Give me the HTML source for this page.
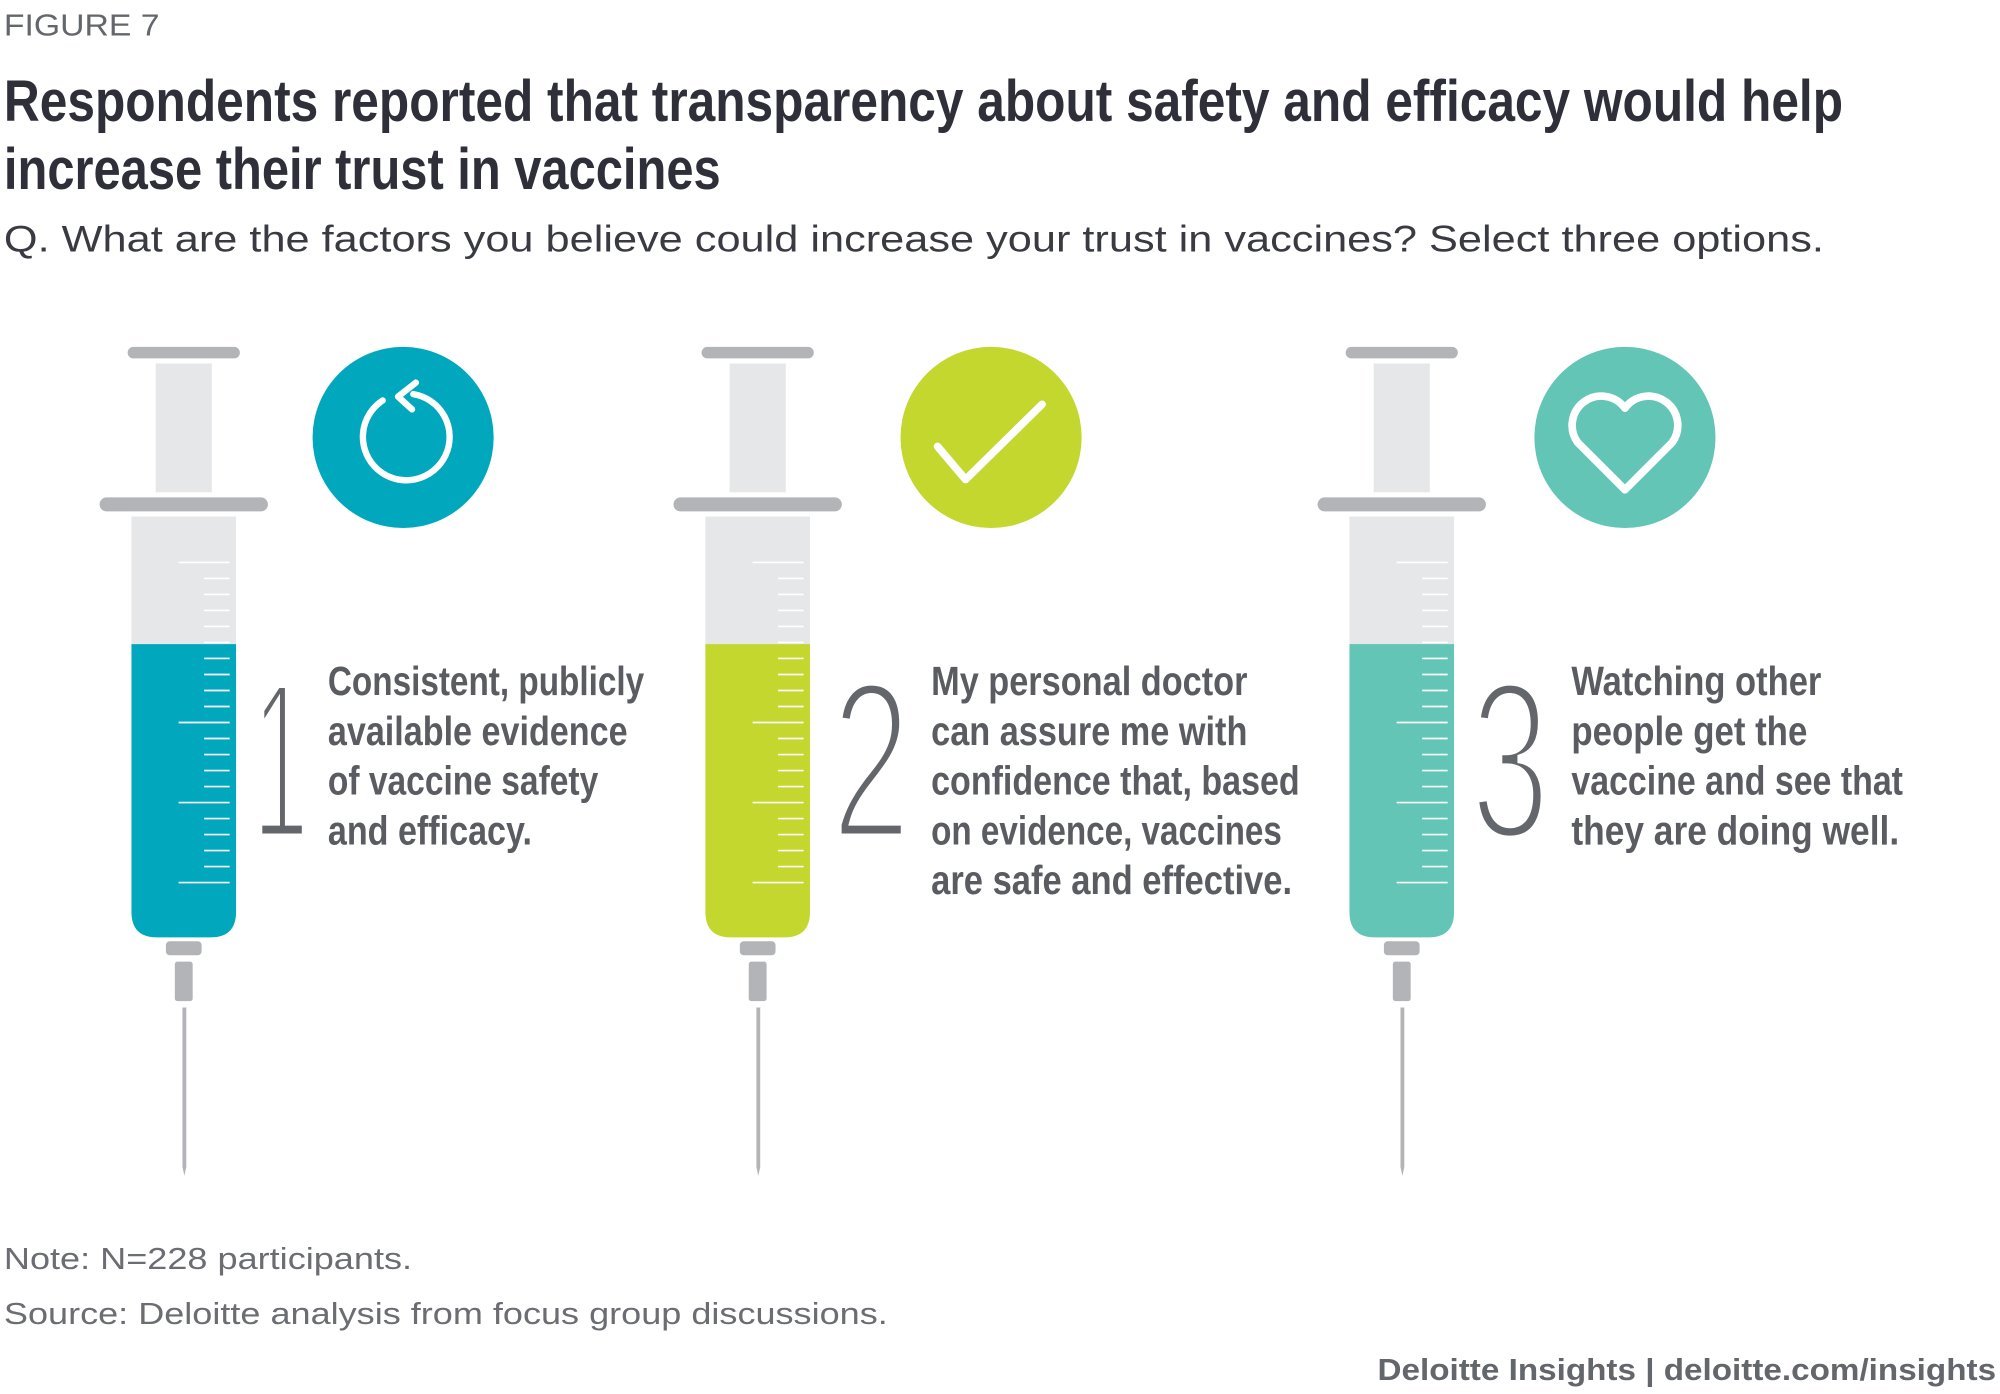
<!DOCTYPE html>
<html><head><meta charset="utf-8"><style>
html,body{margin:0;padding:0;background:#fff;width:2000px;height:1394px;overflow:hidden}
svg{display:block}
</style></head><body>
<svg id="fig" width="2000" height="1394" viewBox="0 0 1568 1093" xmlns="http://www.w3.org/2000/svg" font-family="'Liberation Sans', sans-serif">
<text x="3" y="28" font-size="24" fill="#63666a" textLength="122" lengthAdjust="spacingAndGlyphs">FIGURE 7</text>
<g font-family="'Liberation Sans Narrow','Liberation Sans',sans-serif" font-weight="bold" font-size="46" fill="#2e2f38">
<text x="3" y="95" textLength="1442" lengthAdjust="spacingAndGlyphs">Respondents reported that transparency about safety and efficacy would help</text>
<text x="3" y="148" textLength="562" lengthAdjust="spacingAndGlyphs">increase their trust in vaccines</text>
</g>
<text x="3" y="197" font-size="29" fill="#3a3b42" textLength="1427" lengthAdjust="spacingAndGlyphs">Q. What are the factors you believe could increase your trust in vaccines? Select three options.</text>
<g id="items"></g>
<text x="3" y="995" font-size="24" fill="#6b6d72" textLength="320" lengthAdjust="spacingAndGlyphs">Note: N=228 participants.</text>
<text x="3" y="1038" font-size="24" fill="#6b6d72" textLength="693" lengthAdjust="spacingAndGlyphs">Source: Deloitte analysis from focus group discussions.</text>
<text x="1080" y="1082" font-size="24" font-weight="bold" fill="#63666a" textLength="485" lengthAdjust="spacingAndGlyphs">Deloitte Insights | deloitte.com/insights</text>
</svg>
<script>
const ranks = ["1","2","3"];
const colors = ["#00a7bd","#c4d72e","#62c5b5"];
const offsets = [0,450,955];
const circleX = [316,777,1274];
const labels = [
 ["Consistent, publicly","available evidence","of vaccine safety","and efficacy."],
 ["My personal doctor","can assure me with","confidence that, based","on evidence, vaccines","are safe and effective."],
 ["Watching other","people get the","vaccine and see that","they are doing well."]
];
const widths = [[248,235,212,160],[248,248,289,275,283],[196,185,260,257]];
const NS="http://www.w3.org/2000/svg";
const root=document.getElementById('items');
function mk(tag,attrs,parent){const e=document.createElementNS(NS,tag);for(const k in attrs)e.setAttribute(k,attrs[k]);(parent||root).appendChild(e);return e;}
ranks.forEach((r,i)=>{
 const o=offsets[i], c=colors[i];
 const g=mk('g',{});
 
 
 mk('rect',{x:100+o,y:272,width:88,height:9,rx:4.5,fill:'#b3b4b7'},g);
 mk('rect',{x:122+o,y:285,width:44,height:101,fill:'#e6e7e8'},g);
 mk('rect',{x:78+o,y:390,width:132,height:11,rx:5.5,fill:'#b3b4b7'},g);
 mk('rect',{x:103+o,y:405,width:82,height:110,fill:'#e6e7e8'},g);
 mk('path',{d:`M${103+o},505 H${185+o} V715 Q${185+o},735 ${165+o},735 H${123+o} Q${103+o},735 ${103+o},715 Z`,fill:c},g);
 for(let k=0;k<=20;k++){
  const y=441+k*12.55, long=(k===0||k===10||k===15||k===20);
  mk('line',{x1:(long?140:160)+o,x2:180+o,y1:y,y2:y,stroke:'#fff','stroke-width':1.3},g);
 }
 mk('rect',{x:130+o,y:738,width:28,height:11,rx:3,fill:'#b3b4b7'},g);
 mk('rect',{x:137+o,y:754,width:14,height:31,rx:2,fill:'#b3b4b7'},g);
 mk('path',{d:`M${143+o},790 H${146+o} V915 L${144.5+o},922 L${143+o},915 Z`,fill:'#b3b4b7'},g);
 const cx=circleX[i];
 const ic=mk('circle',{cx:cx,cy:343,r:71,fill:c},g);
 
 
 if(i===0){
  mk('path',{d:`M${cx+8},309 A34,34 0 1 1 ${cx-16},314`,fill:'none',stroke:'#fff','stroke-width':5,'stroke-linecap':'round'},g);
  mk('polyline',{points:`${cx+10},300 ${cx-4},311 ${cx+7},321`,fill:'none',stroke:'#fff','stroke-width':5,'stroke-linecap':'round','stroke-linejoin':'round'},g);
 } else if(i===1){
  mk('polyline',{points:`${cx-42},350 ${cx-20},376 ${cx+40},317`,fill:'none',stroke:'#fff','stroke-width':6,'stroke-linecap':'round','stroke-linejoin':'round'},g);
 } else {
  mk('path',{d:`M${cx},384 L${cx-37},347 A22,22 0 1 1 ${cx},320 A22,22 0 1 1 ${cx+37},347 Z`,fill:'none',stroke:'#fff','stroke-width':6,'stroke-linejoin':'round'},g);
 }
 const num=mk('text',{x:(i===0?198:(i===1?652:1153)),y:657,'font-size':176,fill:'#63666a',stroke:'#fff','stroke-width':7,'paint-order':'fill','font-weight':'normal',textLength:(i===0?44:62),lengthAdjust:'spacingAndGlyphs'},g);
 num.textContent=r;
 
 
 const tx=[257,730,1232][i];
 labels[i].forEach((line,j)=>{
  const t=mk('text',{x:tx,y:545+j*39,'font-size':32,'font-weight':'bold',fill:'#5a5c62','font-family':"'Liberation Sans Narrow','Liberation Sans',sans-serif",textLength:widths[i][j],lengthAdjust:'spacingAndGlyphs'},g);
  t.textContent=line;
  
  
 });
});
</script>
</body></html>
